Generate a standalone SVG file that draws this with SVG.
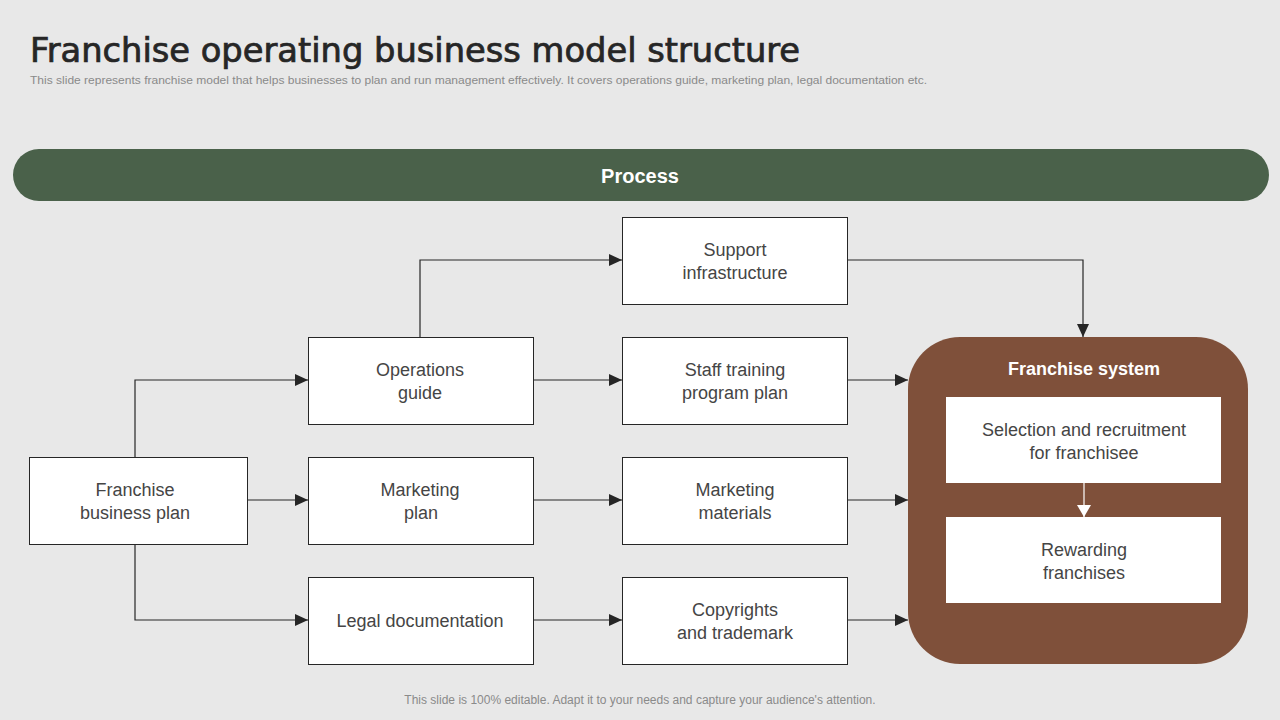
<svg xmlns="http://www.w3.org/2000/svg" width="1280" height="720" viewBox="0 0 1280 720">
<style>
.box{fill:#fff;stroke:#262626;stroke-width:1}
.lbl{font-family:"Liberation Sans",Arial,sans-serif;font-size:18px;fill:#454545;text-anchor:middle}
.con{fill:none;stroke:#262626;stroke-width:1.2}
.wbox{fill:#fff}
</style>
<defs>
<marker id="ah" viewBox="0 0 13 12" refX="13" refY="6" markerWidth="13" markerHeight="12" markerUnits="userSpaceOnUse" orient="auto">
<path d="M0,0 L13,6 L0,12 Z" fill="#262626"/>
</marker>
<marker id="ahw" viewBox="0 0 12 14" refX="12" refY="7" markerWidth="12" markerHeight="14" markerUnits="userSpaceOnUse" orient="auto">
<path d="M0,0 L12,7 L0,14 Z" fill="#fff"/>
</marker>
</defs>
<rect width="1280" height="720" fill="#e8e8e8"/>
<text x="30" y="62" font-family="'DejaVu Sans Condensed','DejaVu Sans',sans-serif" font-size="34" fill="#262626" stroke="#262626" stroke-width="0.7" textLength="770" lengthAdjust="spacingAndGlyphs">Franchise operating business model structure</text>
<text x="30" y="84" font-family="'Liberation Sans Narrow','Liberation Sans',Arial,sans-serif" font-size="11" fill="#8a8a8a" textLength="897" lengthAdjust="spacingAndGlyphs">This slide represents franchise model that helps businesses to plan and run management effectively. It covers operations guide, marketing plan, legal documentation etc.</text>
<g id="process">
<rect x="13" y="149" width="1256" height="52" rx="26" fill="#4a614a"/>
<text x="640" y="183" font-family="'Liberation Sans',Arial,sans-serif" font-size="20" font-weight="bold" fill="#fff" text-anchor="middle">Process</text>
</g>
<g id="connectors">
<path class="con" d="M135,457 V380 H308" marker-end="url(#ah)"/>
<path class="con" d="M247,500 H308" marker-end="url(#ah)"/>
<path class="con" d="M135,544 V620 H308" marker-end="url(#ah)"/>
<path class="con" d="M420,337 V260 H622" marker-end="url(#ah)"/>
<path class="con" d="M533,380 H622" marker-end="url(#ah)"/>
<path class="con" d="M533,500 H622" marker-end="url(#ah)"/>
<path class="con" d="M533,620 H622" marker-end="url(#ah)"/>
<path class="con" d="M847,260 H1083 V337" marker-end="url(#ah)"/>
<path class="con" d="M847,380 H908" marker-end="url(#ah)"/>
<path class="con" d="M847,500 H908" marker-end="url(#ah)"/>
<path class="con" d="M847,620 H908" marker-end="url(#ah)"/>
</g>
<g id="franchise-business-plan">
<rect class="box" x="29.500" y="457.500" width="218" height="87"/>
<text class="lbl" x="135" y="496">Franchise</text>
<text class="lbl" x="135" y="519">business plan</text>
</g>
<g id="operations-guide">
<rect class="box" x="308.500" y="337.500" width="225" height="87"/>
<text class="lbl" x="420" y="376">Operations</text>
<text class="lbl" x="420" y="399">guide</text>
</g>
<g id="marketing-plan">
<rect class="box" x="308.500" y="457.500" width="225" height="87"/>
<text class="lbl" x="420" y="496">Marketing</text>
<text class="lbl" x="421" y="519">plan</text>
</g>
<g id="legal-documentation">
<rect class="box" x="308.500" y="577.500" width="225" height="87"/>
<text class="lbl" x="420" y="627">Legal documentation</text>
</g>
<g id="support-infrastructure">
<rect class="box" x="622.500" y="217.500" width="225" height="87"/>
<text class="lbl" x="735" y="256">Support</text>
<text class="lbl" x="735" y="279">infrastructure</text>
</g>
<g id="staff-training">
<rect class="box" x="622.500" y="337.500" width="225" height="87"/>
<text class="lbl" x="735" y="376">Staff training</text>
<text class="lbl" x="735" y="399">program plan</text>
</g>
<g id="marketing-materials">
<rect class="box" x="622.500" y="457.500" width="225" height="87"/>
<text class="lbl" x="735" y="496">Marketing</text>
<text class="lbl" x="735" y="519">materials</text>
</g>
<g id="copyrights">
<rect class="box" x="622.500" y="577.500" width="225" height="87"/>
<text class="lbl" x="735" y="616">Copyrights</text>
<text class="lbl" x="735" y="639">and trademark</text>
</g>
<g id="franchise-system">
<rect x="908" y="337" width="340" height="327" rx="52" fill="#7f503a"/>
<text x="1084" y="375" font-family="'Liberation Sans',Arial,sans-serif" font-size="18" font-weight="bold" fill="#fff" text-anchor="middle">Franchise system</text>
</g>
<g id="selection">
<rect class="wbox" x="946" y="397" width="275" height="86"/>
<text class="lbl" x="1084" y="436">Selection and recruitment</text>
<text class="lbl" x="1084" y="459">for franchisee</text>
</g>
<g id="rewarding">
<rect class="wbox" x="946" y="517" width="275" height="86"/>
<text class="lbl" x="1084" y="556">Rewarding</text>
<text class="lbl" x="1084" y="579">franchises</text>
</g>
<g id="inner-connector">
<path d="M1084,483 V517" stroke="#fff" stroke-width="1.2" fill="none" marker-end="url(#ahw)"/>
</g>
<text x="640" y="704" font-family="'Liberation Sans',Arial,sans-serif" font-size="12" fill="#8a8a8a" text-anchor="middle">This slide is 100% editable. Adapt it to your needs and capture your audience's attention.</text>
</svg>
